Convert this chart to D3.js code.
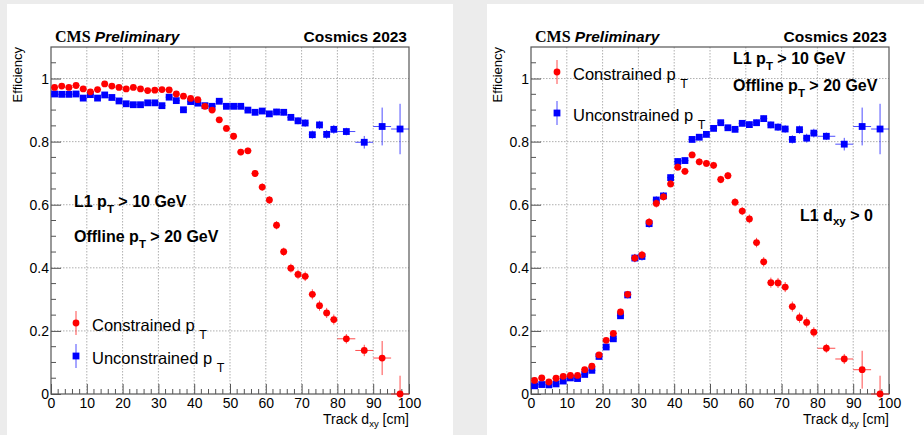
<!DOCTYPE html>
<html>
<head>
<meta charset="utf-8">
<script src="https://cdn.jsdelivr.net/npm/d3@7"></script>
<style>
  body { margin: 0; background: #ececec; }
  svg { display: block; }
  text { font-family: "Liberation Sans", Arial, sans-serif; fill: #000; }
</style>
</head>
<body>
<div id="vis"></div>
<script>
// bin centres (2 cm bins up to 80, then 5 cm bins)
const binCenters = [1, 3, 5, 7, 9, 11, 13, 15, 17, 19, 21, 23, 25, 27, 29, 31, 33, 35, 37, 39,
  41, 43, 45, 47, 49, 51, 53, 55, 57, 59, 61, 63, 65, 67, 69, 71, 73, 75, 77, 79,
  82.5, 87.5, 92.5, 97.5];
const binHalfWidths = [1, 1, 1, 1, 1, 1, 1, 1, 1, 1, 1, 1, 1, 1, 1, 1, 1, 1, 1, 1,
  1, 1, 1, 1, 1, 1, 1, 1, 1, 1, 1, 1, 1, 1, 1, 1, 1, 1, 1, 1,
  2.5, 2.5, 2.5, 2.5];

// left panel: no L1 dxy requirement
const leftConstrained = [0.972, 0.976, 0.972, 0.978, 0.967, 0.958, 0.965, 0.983, 0.976, 0.972,
  0.967, 0.972, 0.967, 0.962, 0.963, 0.965, 0.964, 0.951, 0.944, 0.937,
  0.933, 0.912, 0.900, 0.869, 0.842, 0.817, 0.767, 0.771, 0.699, 0.656,
  0.615, 0.535, 0.451, 0.399, 0.379, 0.373, 0.316, 0.280, 0.257, 0.236,
  0.175, 0.138, 0.114, 0.0];
const leftConstrainedErr = [0.005, 0.005, 0.005, 0.005, 0.006, 0.006, 0.006, 0.005, 0.005, 0.005,
  0.006, 0.006, 0.006, 0.006, 0.006, 0.006, 0.006, 0.007, 0.007, 0.007,
  0.008, 0.008, 0.009, 0.009, 0.010, 0.010, 0.010, 0.010, 0.011, 0.012,
  0.012, 0.013, 0.013, 0.014, 0.015, 0.015, 0.016, 0.016, 0.016, 0.016,
  0.015, 0.018, 0.054, 0.058];
const leftUnconstrained = [0.951, 0.950, 0.950, 0.951, 0.938, 0.949, 0.938, 0.948, 0.940, 0.929,
  0.920, 0.917, 0.917, 0.923, 0.923, 0.914, 0.941, 0.930, 0.901, 0.927,
  0.922, 0.914, 0.912, 0.928, 0.912, 0.912, 0.912, 0.900, 0.893, 0.897,
  0.888, 0.894, 0.893, 0.877, 0.866, 0.859, 0.822, 0.853, 0.823, 0.839,
  0.832, 0.798, 0.848, 0.840];
const leftUnconstrainedErr = [0.005, 0.005, 0.005, 0.005, 0.006, 0.006, 0.006, 0.006, 0.006, 0.006,
  0.007, 0.007, 0.007, 0.007, 0.007, 0.007, 0.007, 0.007, 0.008, 0.008,
  0.008, 0.008, 0.008, 0.008, 0.008, 0.008, 0.008, 0.008, 0.009, 0.009,
  0.009, 0.010, 0.010, 0.010, 0.011, 0.012, 0.013, 0.013, 0.014, 0.014,
  0.012, 0.020, 0.060, 0.080];

// right panel: L1 dxy > 0
const rightConstrained = [0.043, 0.051, 0.038, 0.050, 0.056, 0.059, 0.059, 0.077, 0.088, 0.124,
  0.170, 0.192, 0.260, 0.316, 0.431, 0.441, 0.545, 0.604, 0.625, 0.666,
  0.719, 0.706, 0.758, 0.736, 0.731, 0.725, 0.680, 0.692, 0.608, 0.580,
  0.555, 0.480, 0.419, 0.353, 0.352, 0.339, 0.277, 0.242, 0.227, 0.196,
  0.145, 0.111, 0.077, 0.0];
const rightConstrainedErr = [0.004, 0.004, 0.004, 0.004, 0.004, 0.004, 0.004, 0.005, 0.006, 0.007,
  0.008, 0.009, 0.010, 0.011, 0.013, 0.013, 0.013, 0.013, 0.012, 0.011,
  0.011, 0.011, 0.010, 0.011, 0.011, 0.011, 0.012, 0.012, 0.013, 0.013,
  0.014, 0.015, 0.015, 0.016, 0.016, 0.016, 0.016, 0.016, 0.016, 0.016,
  0.014, 0.016, 0.060, 0.058];
const rightUnconstrained = [0.026, 0.030, 0.029, 0.032, 0.041, 0.051, 0.049, 0.062, 0.075, 0.119,
  0.149, 0.175, 0.248, 0.314, 0.431, 0.436, 0.540, 0.615, 0.628, 0.686,
  0.737, 0.740, 0.807, 0.814, 0.823, 0.842, 0.860, 0.844, 0.839, 0.858,
  0.854, 0.860, 0.873, 0.853, 0.846, 0.840, 0.807, 0.838, 0.811, 0.827,
  0.817, 0.792, 0.848, 0.840];
const rightUnconstrainedErr = [0.003, 0.003, 0.003, 0.003, 0.004, 0.004, 0.004, 0.005, 0.005, 0.006,
  0.007, 0.008, 0.010, 0.011, 0.013, 0.013, 0.013, 0.012, 0.012, 0.011,
  0.010, 0.010, 0.009, 0.009, 0.009, 0.009, 0.009, 0.009, 0.009, 0.009,
  0.010, 0.010, 0.010, 0.011, 0.012, 0.012, 0.013, 0.013, 0.014, 0.014,
  0.012, 0.020, 0.060, 0.080];

const xTicks = [0, 10, 20, 30, 40, 50, 60, 70, 80, 90, 100];
const yTicks = [0, 0.2, 0.4, 0.6, 0.8, 1];

const RED = '#ff0000';
const BLUE = '#0000ff';

const svg = d3.select('#vis')
  .append('svg')
  .attr('width', 924)
  .attr('height', 435);

// white pads on grey canvas
svg.append('rect').attr('x', 7).attr('y', 4).attr('width', 446).attr('height', 431).attr('fill', '#fff');
svg.append('rect').attr('x', 487).attr('y', 4).attr('width', 437).attr('height', 431).attr('fill', '#fff');

function makeSeries(values, errs) {
  return binCenters.map((x, i) => ({ x: x, hw: binHalfWidths[i], y: values[i], e: errs[i] }));
}

function drawPanel(left, opts) {
  const top = 47, bottom = 394, right = left + 358;
  const g = svg.append('g');

  const x = d3.scaleLinear().domain([0, 100]).range([left, right]);
  const y = d3.scaleLinear().domain([0, 1.1]).range([bottom, top]);

  // grid
  g.selectAll('.gx')
    .data(xTicks.slice(1, -1))
    .enter()
    .append('line')
    .attr('x1', d => x(d)).attr('x2', d => x(d))
    .attr('y1', top).attr('y2', bottom)
    .attr('stroke', '#9a9a9a').attr('stroke-width', 0.8)
    .attr('stroke-dasharray', '1.5,1.5');
  g.selectAll('.gy')
    .data(yTicks.slice(1))
    .enter()
    .append('line')
    .attr('x1', left).attr('x2', right)
    .attr('y1', d => y(d)).attr('y2', d => y(d))
    .attr('stroke', '#9a9a9a').attr('stroke-width', 0.8)
    .attr('stroke-dasharray', '1.5,1.5');

  // axes (ROOT style ticks pointing inwards)
  const xAxis = d3.axisBottom(x).tickValues(xTicks).tickSize(-10).tickPadding(4)
    .tickFormat(d3.format('d'));
  const xAx = g.append('g').attr('transform', `translate(0,${bottom})`).call(xAxis);
  xAx.select('.domain').remove();
  xAx.selectAll('line').attr('stroke', '#555');
  xAx.selectAll('text').attr('font-size', 14).attr('font-family', 'Liberation Sans, Arial, sans-serif');

  const yAxis = d3.axisLeft(y).tickValues(yTicks).tickSize(-10).tickPadding(2)
    .tickFormat(d => (d === 0 || d === 1) ? String(d) : d.toFixed(1));
  const yAx = g.append('g').attr('transform', `translate(${left},0)`).call(yAxis);
  yAx.select('.domain').remove();
  yAx.selectAll('line').attr('stroke', '#555');
  yAx.selectAll('text').attr('font-size', 14).attr('font-family', 'Liberation Sans, Arial, sans-serif');

  // minor ticks
  const xMinor = d3.range(2, 100, 2).filter(d => d % 10 !== 0);
  g.selectAll('.mx')
    .data(xMinor)
    .enter()
    .append('line')
    .attr('x1', d => x(d)).attr('x2', d => x(d))
    .attr('y1', bottom).attr('y2', bottom - 5)
    .attr('stroke', '#555');
  const yMinor = d3.range(1, 22).map(i => i * 0.05).filter(d => Math.abs(d / 0.2 - Math.round(d / 0.2)) > 1e-6);
  g.selectAll('.my')
    .data(yMinor)
    .enter()
    .append('line')
    .attr('x1', left).attr('x2', left + 5)
    .attr('y1', d => y(d)).attr('y2', d => y(d))
    .attr('stroke', '#555');

  // frame
  g.append('rect')
    .attr('x', left).attr('y', top)
    .attr('width', right - left).attr('height', bottom - top)
    .attr('fill', 'none').attr('stroke', '#555').attr('stroke-width', 1.2);

  // series
  const series = [
    { data: makeSeries(opts.unc, opts.uncErr), color: BLUE, shape: 'square' },
    { data: makeSeries(opts.con, opts.conErr), color: RED, shape: 'circle' }
  ];
  series.forEach(s => {
    const sg = g.append('g');
    sg.selectAll('.eh')
      .data(s.data)
      .enter()
      .append('line')
      .attr('x1', d => x(d.x - d.hw)).attr('x2', d => x(d.x + d.hw))
      .attr('y1', d => y(d.y)).attr('y2', d => y(d.y))
      .attr('stroke', s.color).attr('stroke-opacity', 0.7).attr('stroke-width', 1);
    sg.selectAll('.ev')
      .data(s.data)
      .enter()
      .append('line')
      .attr('x1', d => x(d.x)).attr('x2', d => x(d.x))
      .attr('y1', d => y(Math.max(0, d.y - d.e))).attr('y2', d => y(d.y + d.e))
      .attr('stroke', s.color).attr('stroke-opacity', 0.7).attr('stroke-width', 1);
    if (s.shape === 'circle') {
      sg.selectAll('circle')
        .data(s.data)
        .enter()
        .append('circle')
        .attr('cx', d => x(d.x)).attr('cy', d => y(d.y))
        .attr('r', 3.4)
        .attr('fill', s.color);
    } else {
      sg.selectAll('rect')
        .data(s.data)
        .enter()
        .append('rect')
        .attr('x', d => x(d.x) - 3.4).attr('y', d => y(d.y) - 3.4)
        .attr('width', 6.8).attr('height', 6.8)
        .attr('fill', s.color);
    }
  });

  // header
  const head = svg.append('text').attr('x', left + 4).attr('y', 42).attr('font-size', 15.5);
  head.append('tspan').text('CMS').attr('font-family', 'Liberation Serif, Times New Roman, serif').attr('font-weight', 'bold').attr('font-size', 16);
  head.append('tspan').text(' Preliminary').attr('font-weight', 'bold').attr('font-style', 'italic');
  svg.append('text').attr('x', right - 2).attr('y', 42).attr('text-anchor', 'end')
    .attr('font-size', 15.5).attr('font-weight', 'bold').text('Cosmics 2023');

  // axis titles
  svg.append('text')
    .attr('transform', `translate(${left - 29},${top}) rotate(-90)`)
    .attr('text-anchor', 'end').attr('font-size', 13).text('Efficiency');
  const xt = svg.append('text').attr('x', right).attr('y', 424).attr('text-anchor', 'end').attr('font-size', 14);
  xt.append('tspan').text('Track d');
  xt.append('tspan').text('xy').attr('font-size', 9.5).attr('dy', 3);
  xt.append('tspan').text(' [cm]').attr('dy', -3);

  // selection labels
  opts.labels.forEach(l => {
    const t = svg.append('text').attr('x', l.x).attr('y', l.y)
      .attr('font-size', 16).attr('font-weight', 'bold');
    t.append('tspan').text(l.a);
    t.append('tspan').text(l.sub).attr('font-size', l.subSize).attr('dy', l.dy);
    t.append('tspan').text(l.b).attr('dy', -l.dy);
  });

  // legend
  const legendItems = [
    { label: 'Constrained p ', color: RED, shape: 'circle', y: opts.legendY[0] },
    { label: 'Unconstrained p ', color: BLUE, shape: 'square', y: opts.legendY[1] }
  ];
  legendItems.forEach(li => {
    const mx = opts.legendX;
    svg.append('line').attr('x1', mx).attr('x2', mx).attr('y1', li.y - 12).attr('y2', li.y + 12)
      .attr('stroke', li.color).attr('stroke-opacity', 0.7);
    if (li.shape === 'circle') {
      svg.append('circle').attr('cx', mx).attr('cy', li.y).attr('r', 3.4).attr('fill', li.color);
    } else {
      svg.append('rect').attr('x', mx - 3.4).attr('y', li.y - 3.4).attr('width', 6.8).attr('height', 6.8).attr('fill', li.color);
    }
    const t = svg.append('text').attr('x', mx + 16).attr('y', li.y + 8).attr('font-size', 16.5);
    t.append('tspan').text(li.label);
    t.append('tspan').text('T').attr('font-size', 12.5).attr('dy', 8);
  });
}

drawPanel(51, {
  con: leftConstrained, conErr: leftConstrainedErr,
  unc: leftUnconstrained, uncErr: leftUnconstrainedErr,
  legendX: 76, legendY: [323, 356],
  labels: [
    { x: 74, y: 207, a: 'L1 p', sub: 'T', subSize: 11.5, dy: 6, b: ' > 10 GeV' },
    { x: 74, y: 242, a: 'Offline p', sub: 'T', subSize: 11.5, dy: 6, b: ' > 20 GeV' }
  ]
});

drawPanel(531, {
  con: rightConstrained, conErr: rightConstrainedErr,
  unc: rightUnconstrained, uncErr: rightUnconstrainedErr,
  legendX: 557, legendY: [72, 113],
  labels: [
    { x: 733, y: 64, a: 'L1 p', sub: 'T', subSize: 11.5, dy: 6, b: ' > 10 GeV' },
    { x: 733, y: 91, a: 'Offline p', sub: 'T', subSize: 11.5, dy: 6, b: ' > 20 GeV' },
    { x: 800, y: 221, a: 'L1 d', sub: 'xy', subSize: 11.5, dy: 4, b: ' > 0' }
  ]
});
</script>
</body>
</html>
